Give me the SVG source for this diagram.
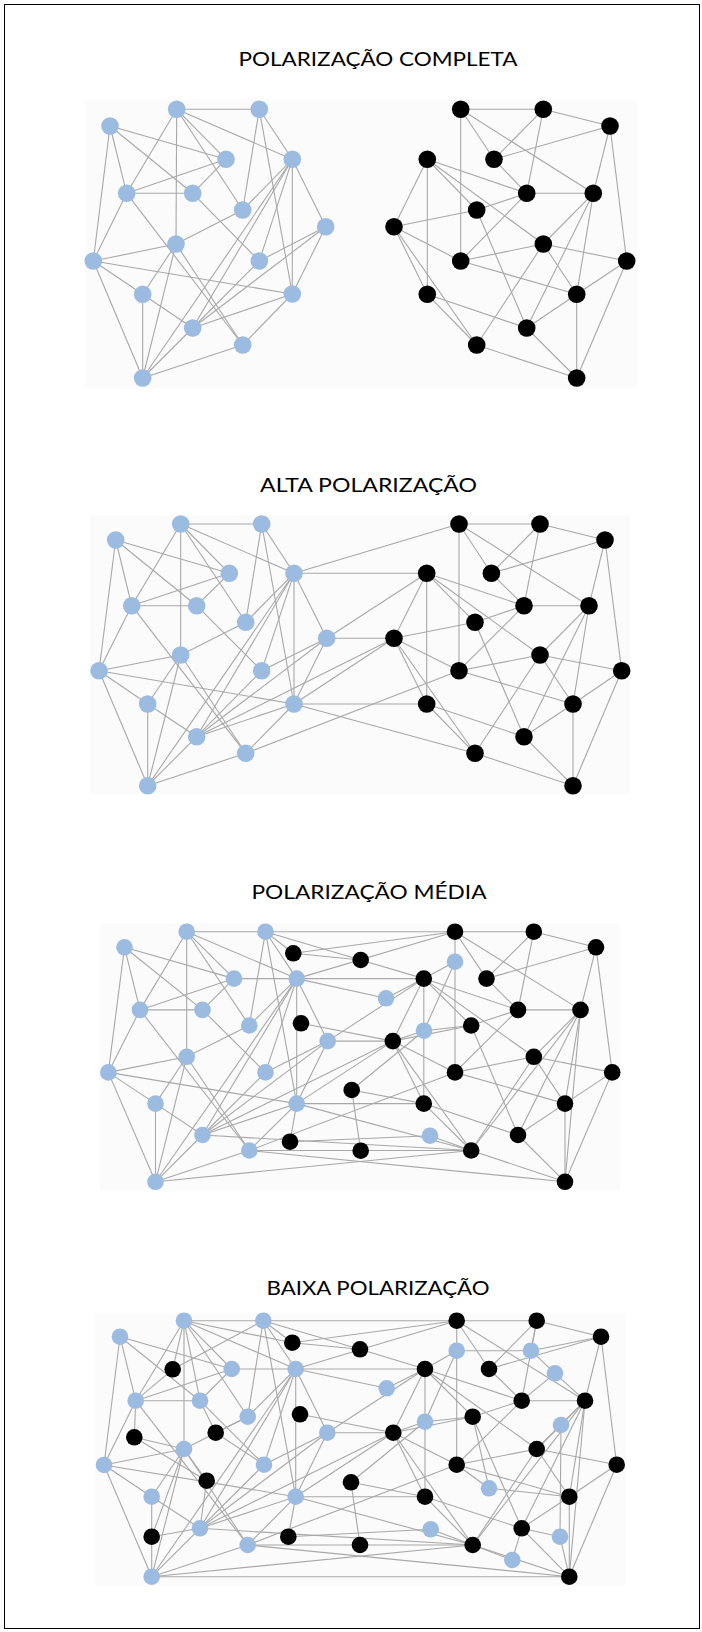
<svg xmlns="http://www.w3.org/2000/svg" width="702" height="1632" viewBox="0 0 702 1632">
<style>
.bg{fill:#fbfbfb}
.e line{stroke:#a8a8a8;stroke-width:1.1}
.bl{fill:#9bbbe1}
.bk{fill:#000}
.t{font-family:Lato,"Liberation Sans",Arial,sans-serif;font-size:19px;fill:#000;text-anchor:middle}
</style>
<rect x="0" y="0" width="702" height="1632" fill="#fff"/>
<rect x="4.5" y="4.5" width="695" height="1624" fill="none" stroke="#000" stroke-width="1"/>
<rect class="bg" x="85" y="100" width="552" height="288"/>
<rect class="bg" x="90" y="515" width="540" height="279"/>
<rect class="bg" x="100" y="923" width="520" height="268"/>
<rect class="bg" x="95" y="1313" width="531" height="272"/>
<text class="t" x="378" y="66" textLength="279" lengthAdjust="spacingAndGlyphs">POLARIZAÇÃO COMPLETA</text>
<text class="t" x="368.5" y="492" textLength="217" lengthAdjust="spacingAndGlyphs">ALTA POLARIZAÇÃO</text>
<text class="t" x="369" y="899" textLength="235" lengthAdjust="spacingAndGlyphs">POLARIZAÇÃO MÉDIA</text>
<text class="t" x="378" y="1295" textLength="223" lengthAdjust="spacingAndGlyphs">BAIXA POLARIZAÇÃO</text>

<g id="p1-edges" class="e">
<line x1="110" y1="126" x2="226" y2="159.3"/><line x1="110" y1="126" x2="192.7" y2="193.3"/><line x1="110" y1="126" x2="126.7" y2="193.3"/><line x1="110" y1="126" x2="93.3" y2="261"/>
<line x1="176.7" y1="109.3" x2="259.3" y2="109.3"/><line x1="176.7" y1="109.3" x2="126.7" y2="193.3"/><line x1="176.7" y1="109.3" x2="176" y2="244"/><line x1="176.7" y1="109.3" x2="226" y2="159.3"/><line x1="176.7" y1="109.3" x2="242.7" y2="210"/><line x1="176.7" y1="109.3" x2="292.3" y2="159.3"/>
<line x1="259.3" y1="109.3" x2="292.3" y2="159.3"/><line x1="259.3" y1="109.3" x2="242.7" y2="210"/><line x1="259.3" y1="109.3" x2="292.3" y2="294"/>
<line x1="226" y1="159.3" x2="126.7" y2="193.3"/><line x1="226" y1="159.3" x2="192.7" y2="193.3"/>
<line x1="126.7" y1="193.3" x2="192.7" y2="193.3"/><line x1="126.7" y1="193.3" x2="93.3" y2="261"/><line x1="126.7" y1="193.3" x2="242.7" y2="345"/>
<line x1="192.7" y1="193.3" x2="259.3" y2="261"/><line x1="242.7" y1="210" x2="176" y2="244"/><line x1="242.7" y1="210" x2="292.3" y2="159.3"/>
<line x1="292.3" y1="159.3" x2="325.7" y2="226.7"/><line x1="292.3" y1="159.3" x2="292.3" y2="294"/><line x1="292.3" y1="159.3" x2="259.3" y2="261"/><line x1="292.3" y1="159.3" x2="192.7" y2="328"/><line x1="292.3" y1="159.3" x2="142.7" y2="378"/>
<line x1="325.7" y1="226.7" x2="259.3" y2="261"/><line x1="325.7" y1="226.7" x2="192.7" y2="328"/><line x1="325.7" y1="226.7" x2="292.3" y2="294"/>
<line x1="176" y1="244" x2="93.3" y2="261"/><line x1="176" y1="244" x2="142.7" y2="294.3"/><line x1="176" y1="244" x2="142.7" y2="378"/><line x1="176" y1="244" x2="242.7" y2="345"/>
<line x1="93.3" y1="261" x2="292.3" y2="294"/><line x1="93.3" y1="261" x2="142.7" y2="294.3"/><line x1="93.3" y1="261" x2="142.7" y2="378"/>
<line x1="142.7" y1="294.3" x2="192.7" y2="328"/><line x1="142.7" y1="294.3" x2="142.7" y2="378"/>
<line x1="292.3" y1="294" x2="192.7" y2="328"/><line x1="292.3" y1="294" x2="242.7" y2="345"/>
<line x1="192.7" y1="328" x2="142.7" y2="378"/><line x1="242.7" y1="345" x2="142.7" y2="378"/><line x1="259.3" y1="261" x2="192.7" y2="328"/>
<line x1="460.7" y1="109.3" x2="543.3" y2="109.3"/><line x1="460.7" y1="109.3" x2="460.7" y2="261"/><line x1="460.7" y1="109.3" x2="494" y2="159.3"/><line x1="460.7" y1="109.3" x2="593.3" y2="193.3"/>
<line x1="543.3" y1="109.3" x2="494" y2="159.3"/><line x1="543.3" y1="109.3" x2="526.7" y2="193.3"/><line x1="543.3" y1="109.3" x2="610" y2="126"/>
<line x1="610" y1="126" x2="494" y2="159.3"/><line x1="610" y1="126" x2="593.3" y2="193.3"/><line x1="610" y1="126" x2="626.7" y2="261"/>
<line x1="494" y1="159.3" x2="526.7" y2="193.3"/>
<line x1="427.3" y1="159.3" x2="394" y2="226.7"/><line x1="427.3" y1="159.3" x2="427.3" y2="294.3"/><line x1="427.3" y1="159.3" x2="526.7" y2="193.3"/><line x1="427.3" y1="159.3" x2="476.7" y2="210"/><line x1="427.3" y1="159.3" x2="543.3" y2="244"/>
<line x1="526.7" y1="193.3" x2="593.3" y2="193.3"/><line x1="526.7" y1="193.3" x2="476.7" y2="210"/><line x1="526.7" y1="193.3" x2="460.7" y2="261"/>
<line x1="593.3" y1="193.3" x2="543.3" y2="244"/><line x1="593.3" y1="193.3" x2="576.7" y2="294.3"/><line x1="593.3" y1="193.3" x2="526.7" y2="328"/>
<line x1="476.7" y1="210" x2="394" y2="226.7"/><line x1="476.7" y1="210" x2="526.7" y2="328"/>
<line x1="394" y1="226.7" x2="460.7" y2="261"/><line x1="394" y1="226.7" x2="427.3" y2="294.3"/><line x1="394" y1="226.7" x2="476.7" y2="345"/>
<line x1="460.7" y1="261" x2="543.3" y2="244"/><line x1="460.7" y1="261" x2="576.7" y2="294.3"/>
<line x1="543.3" y1="244" x2="576.7" y2="294.3"/><line x1="543.3" y1="244" x2="626.7" y2="261"/><line x1="543.3" y1="244" x2="476.7" y2="345"/>
<line x1="427.3" y1="294.3" x2="476.7" y2="345"/><line x1="427.3" y1="294.3" x2="526.7" y2="328"/>
<line x1="576.7" y1="294.3" x2="626.7" y2="261"/><line x1="576.7" y1="294.3" x2="526.7" y2="328"/><line x1="576.7" y1="294.3" x2="576.7" y2="378"/>
<line x1="626.7" y1="261" x2="576.7" y2="378"/><line x1="526.7" y1="328" x2="576.7" y2="378"/><line x1="476.7" y1="345" x2="576.7" y2="378"/>
</g>

<g id="p2-edges" class="e">
<line x1="115.7" y1="540" x2="229.3" y2="573.3"/><line x1="115.7" y1="540" x2="196.7" y2="605.7"/><line x1="115.7" y1="540" x2="131.7" y2="605.7"/><line x1="115.7" y1="540" x2="99" y2="670.7"/>
<line x1="180.7" y1="524" x2="261.7" y2="524"/><line x1="180.7" y1="524" x2="131.7" y2="605.7"/><line x1="180.7" y1="524" x2="180.7" y2="655"/><line x1="180.7" y1="524" x2="229.3" y2="573.3"/><line x1="180.7" y1="524" x2="245.7" y2="622.3"/><line x1="180.7" y1="524" x2="294" y2="573.3"/>
<line x1="261.7" y1="524" x2="294" y2="573.3"/><line x1="261.7" y1="524" x2="245.7" y2="622.3"/><line x1="261.7" y1="524" x2="294" y2="704"/>
<line x1="229.3" y1="573.3" x2="131.7" y2="605.7"/><line x1="229.3" y1="573.3" x2="196.7" y2="605.7"/>
<line x1="131.7" y1="605.7" x2="196.7" y2="605.7"/><line x1="131.7" y1="605.7" x2="99" y2="670.7"/><line x1="131.7" y1="605.7" x2="245.7" y2="753.3"/>
<line x1="196.7" y1="605.7" x2="261.7" y2="670.7"/><line x1="245.7" y1="622.3" x2="180.7" y2="655"/><line x1="245.7" y1="622.3" x2="294" y2="573.3"/>
<line x1="294" y1="573.3" x2="326.7" y2="638.3"/><line x1="294" y1="573.3" x2="294" y2="704"/><line x1="294" y1="573.3" x2="261.7" y2="670.7"/><line x1="294" y1="573.3" x2="196.7" y2="736.7"/><line x1="294" y1="573.3" x2="147.7" y2="785.7"/>
<line x1="326.7" y1="638.3" x2="261.7" y2="670.7"/><line x1="326.7" y1="638.3" x2="196.7" y2="736.7"/><line x1="326.7" y1="638.3" x2="294" y2="704"/>
<line x1="180.7" y1="655" x2="99" y2="670.7"/><line x1="180.7" y1="655" x2="147.7" y2="704"/><line x1="180.7" y1="655" x2="147.7" y2="785.7"/><line x1="180.7" y1="655" x2="245.7" y2="753.3"/>
<line x1="99" y1="670.7" x2="294" y2="704"/><line x1="99" y1="670.7" x2="147.7" y2="704"/><line x1="99" y1="670.7" x2="147.7" y2="785.7"/>
<line x1="147.7" y1="704" x2="196.7" y2="736.7"/><line x1="147.7" y1="704" x2="147.7" y2="785.7"/>
<line x1="294" y1="704" x2="196.7" y2="736.7"/><line x1="294" y1="704" x2="245.7" y2="753.3"/>
<line x1="196.7" y1="736.7" x2="147.7" y2="785.7"/><line x1="245.7" y1="753.3" x2="147.7" y2="785.7"/><line x1="261.7" y1="670.7" x2="196.7" y2="736.7"/>
<line x1="459" y1="524" x2="540" y2="524"/><line x1="459" y1="524" x2="459" y2="670.7"/><line x1="459" y1="524" x2="491.4" y2="573.3"/><line x1="459" y1="524" x2="589" y2="605.7"/>
<line x1="540" y1="524" x2="491.4" y2="573.3"/><line x1="540" y1="524" x2="524" y2="605.7"/><line x1="540" y1="524" x2="605" y2="540"/>
<line x1="605" y1="540" x2="491.4" y2="573.3"/><line x1="605" y1="540" x2="589" y2="605.7"/><line x1="605" y1="540" x2="621.7" y2="670.7"/>
<line x1="491.4" y1="573.3" x2="524" y2="605.7"/>
<line x1="426.7" y1="573.3" x2="394" y2="638.3"/><line x1="426.7" y1="573.3" x2="426.7" y2="704"/><line x1="426.7" y1="573.3" x2="524" y2="605.7"/><line x1="426.7" y1="573.3" x2="475" y2="622.3"/><line x1="426.7" y1="573.3" x2="540" y2="655"/>
<line x1="524" y1="605.7" x2="589" y2="605.7"/><line x1="524" y1="605.7" x2="475" y2="622.3"/><line x1="524" y1="605.7" x2="459" y2="670.7"/>
<line x1="589" y1="605.7" x2="540" y2="655"/><line x1="589" y1="605.7" x2="573" y2="704"/><line x1="589" y1="605.7" x2="524" y2="736.7"/>
<line x1="475" y1="622.3" x2="394" y2="638.3"/><line x1="475" y1="622.3" x2="524" y2="736.7"/>
<line x1="394" y1="638.3" x2="459" y2="670.7"/><line x1="394" y1="638.3" x2="426.7" y2="704"/><line x1="394" y1="638.3" x2="475" y2="753.3"/>
<line x1="459" y1="670.7" x2="540" y2="655"/><line x1="459" y1="670.7" x2="573" y2="704"/>
<line x1="540" y1="655" x2="573" y2="704"/><line x1="540" y1="655" x2="621.7" y2="670.7"/><line x1="540" y1="655" x2="475" y2="753.3"/>
<line x1="426.7" y1="704" x2="475" y2="753.3"/><line x1="426.7" y1="704" x2="524" y2="736.7"/>
<line x1="573" y1="704" x2="621.7" y2="670.7"/><line x1="573" y1="704" x2="524" y2="736.7"/><line x1="573" y1="704" x2="573" y2="785.7"/>
<line x1="621.7" y1="670.7" x2="573" y2="785.7"/><line x1="524" y1="736.7" x2="573" y2="785.7"/><line x1="475" y1="753.3" x2="573" y2="785.7"/>
<line x1="294" y1="573.3" x2="459" y2="524"/><line x1="294" y1="573.3" x2="426.7" y2="573.3"/><line x1="326.7" y1="638.3" x2="426.7" y2="573.3"/><line x1="326.7" y1="638.3" x2="394" y2="638.3"/>
<line x1="294" y1="704" x2="394" y2="638.3"/><line x1="196.7" y1="736.7" x2="394" y2="638.3"/><line x1="294" y1="704" x2="426.7" y2="704"/><line x1="245.7" y1="753.3" x2="459" y2="670.7"/><line x1="294" y1="704" x2="475" y2="753.3"/>
</g>

<g id="p3-edges" class="e">
<line x1="124.5" y1="947.3" x2="234" y2="978.6"/><line x1="124.5" y1="947.3" x2="202.5" y2="1009.9"/><line x1="124.5" y1="947.3" x2="140" y2="1009.9"/><line x1="124.5" y1="947.3" x2="108.3" y2="1072.4"/>
<line x1="186.7" y1="931.7" x2="265.5" y2="931.7"/><line x1="186.7" y1="931.7" x2="140" y2="1009.9"/><line x1="186.7" y1="931.7" x2="186.7" y2="1056.8"/><line x1="186.7" y1="931.7" x2="234" y2="978.6"/><line x1="186.7" y1="931.7" x2="249.3" y2="1025.5"/><line x1="186.7" y1="931.7" x2="296.7" y2="978.6"/>
<line x1="265.5" y1="931.7" x2="296.7" y2="978.6"/><line x1="265.5" y1="931.7" x2="249.3" y2="1025.5"/><line x1="265.5" y1="931.7" x2="296.7" y2="1103.6"/>
<line x1="234" y1="978.6" x2="140" y2="1009.9"/><line x1="234" y1="978.6" x2="202.5" y2="1009.9"/>
<line x1="140" y1="1009.9" x2="202.5" y2="1009.9"/><line x1="140" y1="1009.9" x2="108.3" y2="1072.4"/><line x1="140" y1="1009.9" x2="249.3" y2="1150.5"/>
<line x1="202.5" y1="1009.9" x2="265.5" y2="1072.4"/><line x1="249.3" y1="1025.5" x2="186.7" y2="1056.8"/><line x1="249.3" y1="1025.5" x2="296.7" y2="978.6"/>
<line x1="296.7" y1="978.6" x2="327.7" y2="1041.1"/><line x1="296.7" y1="978.6" x2="296.7" y2="1103.6"/><line x1="296.7" y1="978.6" x2="265.5" y2="1072.4"/><line x1="296.7" y1="978.6" x2="202.5" y2="1135"/><line x1="296.7" y1="978.6" x2="155.5" y2="1181.8"/>
<line x1="327.7" y1="1041.1" x2="265.5" y2="1072.4"/><line x1="327.7" y1="1041.1" x2="202.5" y2="1135"/><line x1="327.7" y1="1041.1" x2="296.7" y2="1103.6"/>
<line x1="186.7" y1="1056.8" x2="108.3" y2="1072.4"/><line x1="186.7" y1="1056.8" x2="155.5" y2="1103.6"/><line x1="186.7" y1="1056.8" x2="155.5" y2="1181.8"/><line x1="186.7" y1="1056.8" x2="249.3" y2="1150.5"/>
<line x1="108.3" y1="1072.4" x2="296.7" y2="1103.6"/><line x1="108.3" y1="1072.4" x2="155.5" y2="1103.6"/><line x1="108.3" y1="1072.4" x2="155.5" y2="1181.8"/>
<line x1="155.5" y1="1103.6" x2="202.5" y2="1135"/><line x1="155.5" y1="1103.6" x2="155.5" y2="1181.8"/>
<line x1="296.7" y1="1103.6" x2="202.5" y2="1135"/><line x1="296.7" y1="1103.6" x2="249.3" y2="1150.5"/>
<line x1="202.5" y1="1135" x2="155.5" y2="1181.8"/><line x1="249.3" y1="1150.5" x2="155.5" y2="1181.8"/><line x1="265.5" y1="1072.4" x2="202.5" y2="1135"/>
<line x1="455" y1="931.7" x2="533.8" y2="931.7"/><line x1="455" y1="931.7" x2="455" y2="1072.4"/><line x1="455" y1="931.7" x2="486.5" y2="978.6"/><line x1="455" y1="931.7" x2="580.5" y2="1009.9"/>
<line x1="533.8" y1="931.7" x2="486.5" y2="978.6"/><line x1="533.8" y1="931.7" x2="518" y2="1009.9"/><line x1="533.8" y1="931.7" x2="596" y2="947.3"/>
<line x1="596" y1="947.3" x2="486.5" y2="978.6"/><line x1="596" y1="947.3" x2="580.5" y2="1009.9"/><line x1="596" y1="947.3" x2="612.2" y2="1072.4"/>
<line x1="486.5" y1="978.6" x2="518" y2="1009.9"/>
<line x1="423.8" y1="978.6" x2="392.8" y2="1041.1"/><line x1="423.8" y1="978.6" x2="423.8" y2="1103.6"/><line x1="423.8" y1="978.6" x2="518" y2="1009.9"/><line x1="423.8" y1="978.6" x2="471.2" y2="1025.5"/><line x1="423.8" y1="978.6" x2="533.8" y2="1056.8"/>
<line x1="518" y1="1009.9" x2="580.5" y2="1009.9"/><line x1="518" y1="1009.9" x2="471.2" y2="1025.5"/><line x1="518" y1="1009.9" x2="455" y2="1072.4"/>
<line x1="580.5" y1="1009.9" x2="533.8" y2="1056.8"/><line x1="580.5" y1="1009.9" x2="565" y2="1103.6"/><line x1="580.5" y1="1009.9" x2="518" y2="1135"/>
<line x1="471.2" y1="1025.5" x2="392.8" y2="1041.1"/><line x1="471.2" y1="1025.5" x2="518" y2="1135"/>
<line x1="392.8" y1="1041.1" x2="455" y2="1072.4"/><line x1="392.8" y1="1041.1" x2="423.8" y2="1103.6"/><line x1="392.8" y1="1041.1" x2="471.2" y2="1150.5"/>
<line x1="455" y1="1072.4" x2="533.8" y2="1056.8"/><line x1="455" y1="1072.4" x2="565" y2="1103.6"/>
<line x1="533.8" y1="1056.8" x2="565" y2="1103.6"/><line x1="533.8" y1="1056.8" x2="612.2" y2="1072.4"/><line x1="533.8" y1="1056.8" x2="471.2" y2="1150.5"/>
<line x1="423.8" y1="1103.6" x2="471.2" y2="1150.5"/><line x1="423.8" y1="1103.6" x2="518" y2="1135"/>
<line x1="565" y1="1103.6" x2="612.2" y2="1072.4"/><line x1="565" y1="1103.6" x2="518" y2="1135"/><line x1="565" y1="1103.6" x2="565" y2="1181.8"/>
<line x1="612.2" y1="1072.4" x2="565" y2="1181.8"/><line x1="518" y1="1135" x2="565" y2="1181.8"/><line x1="471.2" y1="1150.5" x2="565" y2="1181.8"/>
<line x1="265.5" y1="931.7" x2="455" y2="931.7"/><line x1="265.5" y1="931.7" x2="293.3" y2="953.3"/><line x1="265.5" y1="931.7" x2="360.7" y2="960"/><line x1="293.3" y1="953.3" x2="360.7" y2="960"/>
<line x1="293.3" y1="953.3" x2="455" y2="931.7"/><line x1="296.7" y1="978.6" x2="455" y2="931.7"/><line x1="360.7" y1="960" x2="423.8" y2="978.6"/><line x1="234" y1="978.6" x2="423.8" y2="978.6"/>
<line x1="423.8" y1="978.6" x2="455" y2="961.7"/><line x1="455" y1="961.7" x2="424" y2="1030.7"/><line x1="423.8" y1="978.6" x2="386" y2="998.3"/><line x1="296.7" y1="978.6" x2="386" y2="998.3"/>
<line x1="327.7" y1="1041.1" x2="423.8" y2="978.6"/><line x1="327.7" y1="1041.1" x2="392.8" y2="1041.1"/><line x1="424" y1="1030.7" x2="392.8" y2="1041.1"/><line x1="424" y1="1030.7" x2="471.2" y2="1025.5"/>
<line x1="424" y1="1030.7" x2="351.7" y2="1090"/><line x1="351.7" y1="1090" x2="360.7" y2="1150.7"/><line x1="351.7" y1="1090" x2="423.8" y2="1103.6"/><line x1="249.3" y1="1150.5" x2="471.2" y2="1150.5"/>
<line x1="296.7" y1="1103.6" x2="290" y2="1141.7"/><line x1="430" y1="1135.7" x2="471.2" y2="1150.5"/><line x1="296.7" y1="1103.6" x2="423.8" y2="1103.6"/><line x1="296.7" y1="1103.6" x2="471.2" y2="1150.5"/>
<line x1="249.3" y1="1150.5" x2="455" y2="1072.4"/><line x1="296.7" y1="1103.6" x2="392.8" y2="1041.1"/><line x1="202.5" y1="1135" x2="392.8" y2="1041.1"/><line x1="202.5" y1="1135" x2="471.2" y2="1150.5"/>
<line x1="249.3" y1="1150.5" x2="565" y2="1181.8"/><line x1="155.5" y1="1181.8" x2="471.2" y2="1150.5"/><line x1="290" y1="1141.7" x2="430" y2="1135.7"/><line x1="301" y1="1023.3" x2="392.8" y2="1041.1"/>
<line x1="580.5" y1="1009.9" x2="471.2" y2="1150.5"/><line x1="580.5" y1="1009.9" x2="565" y2="1181.8"/>
</g>

<g id="p4-edges" class="e">
<line x1="120" y1="1336.7" x2="231.7" y2="1369"/><line x1="120" y1="1336.7" x2="200" y2="1400.7"/><line x1="120" y1="1336.7" x2="135.7" y2="1400.7"/><line x1="120" y1="1336.7" x2="104" y2="1465"/>
<line x1="184" y1="1320.7" x2="263.3" y2="1320.7"/><line x1="184" y1="1320.7" x2="135.7" y2="1400.7"/><line x1="184" y1="1320.7" x2="184" y2="1449"/><line x1="184" y1="1320.7" x2="231.7" y2="1369"/><line x1="184" y1="1320.7" x2="247.7" y2="1416.7"/><line x1="184" y1="1320.7" x2="295.7" y2="1369"/>
<line x1="263.3" y1="1320.7" x2="295.7" y2="1369"/><line x1="263.3" y1="1320.7" x2="247.7" y2="1416.7"/><line x1="263.3" y1="1320.7" x2="295.7" y2="1496.7"/>
<line x1="231.7" y1="1369" x2="135.7" y2="1400.7"/><line x1="231.7" y1="1369" x2="200" y2="1400.7"/>
<line x1="135.7" y1="1400.7" x2="200" y2="1400.7"/><line x1="135.7" y1="1400.7" x2="104" y2="1465"/><line x1="135.7" y1="1400.7" x2="247.7" y2="1545"/>
<line x1="200" y1="1400.7" x2="264" y2="1464.7"/><line x1="247.7" y1="1416.7" x2="184" y2="1449"/><line x1="247.7" y1="1416.7" x2="295.7" y2="1369"/>
<line x1="295.7" y1="1369" x2="327.3" y2="1432.7"/><line x1="295.7" y1="1369" x2="295.7" y2="1496.7"/><line x1="295.7" y1="1369" x2="264" y2="1464.7"/><line x1="295.7" y1="1369" x2="200" y2="1528.3"/><line x1="295.7" y1="1369" x2="151.7" y2="1576.7"/>
<line x1="327.3" y1="1432.7" x2="264" y2="1464.7"/><line x1="327.3" y1="1432.7" x2="200" y2="1528.3"/><line x1="327.3" y1="1432.7" x2="295.7" y2="1496.7"/>
<line x1="184" y1="1449" x2="104" y2="1465"/><line x1="184" y1="1449" x2="151.7" y2="1496.7"/><line x1="184" y1="1449" x2="151.7" y2="1576.7"/><line x1="184" y1="1449" x2="247.7" y2="1545"/>
<line x1="104" y1="1465" x2="295.7" y2="1496.7"/><line x1="104" y1="1465" x2="151.7" y2="1496.7"/><line x1="104" y1="1465" x2="151.7" y2="1576.7"/>
<line x1="151.7" y1="1496.7" x2="200" y2="1528.3"/><line x1="151.7" y1="1496.7" x2="151.7" y2="1576.7"/>
<line x1="295.7" y1="1496.7" x2="200" y2="1528.3"/><line x1="295.7" y1="1496.7" x2="247.7" y2="1545"/>
<line x1="200" y1="1528.3" x2="151.7" y2="1576.7"/><line x1="247.7" y1="1545" x2="151.7" y2="1576.7"/><line x1="264" y1="1464.7" x2="200" y2="1528.3"/>
<line x1="456.7" y1="1320.7" x2="536.7" y2="1320.7"/><line x1="456.7" y1="1320.7" x2="456.7" y2="1464.7"/><line x1="456.7" y1="1320.7" x2="489" y2="1369"/><line x1="456.7" y1="1320.7" x2="585" y2="1400.7"/>
<line x1="536.7" y1="1320.7" x2="489" y2="1369"/><line x1="536.7" y1="1320.7" x2="521.7" y2="1400.7"/><line x1="536.7" y1="1320.7" x2="601" y2="1336.7"/>
<line x1="601" y1="1336.7" x2="489" y2="1369"/><line x1="601" y1="1336.7" x2="585" y2="1400.7"/><line x1="601" y1="1336.7" x2="616.7" y2="1464.7"/>
<line x1="489" y1="1369" x2="521.7" y2="1400.7"/>
<line x1="425" y1="1369" x2="393.3" y2="1432.7"/><line x1="425" y1="1369" x2="425" y2="1496.7"/><line x1="425" y1="1369" x2="521.7" y2="1400.7"/><line x1="425" y1="1369" x2="472.7" y2="1416.7"/><line x1="425" y1="1369" x2="536.7" y2="1449"/>
<line x1="521.7" y1="1400.7" x2="585" y2="1400.7"/><line x1="521.7" y1="1400.7" x2="472.7" y2="1416.7"/><line x1="521.7" y1="1400.7" x2="456.7" y2="1464.7"/>
<line x1="585" y1="1400.7" x2="536.7" y2="1449"/><line x1="585" y1="1400.7" x2="569.3" y2="1496.7"/><line x1="585" y1="1400.7" x2="521.7" y2="1528.3"/>
<line x1="472.7" y1="1416.7" x2="393.3" y2="1432.7"/><line x1="472.7" y1="1416.7" x2="521.7" y2="1528.3"/>
<line x1="393.3" y1="1432.7" x2="456.7" y2="1464.7"/><line x1="393.3" y1="1432.7" x2="425" y2="1496.7"/><line x1="393.3" y1="1432.7" x2="472.7" y2="1545"/>
<line x1="456.7" y1="1464.7" x2="536.7" y2="1449"/><line x1="456.7" y1="1464.7" x2="569.3" y2="1496.7"/>
<line x1="536.7" y1="1449" x2="569.3" y2="1496.7"/><line x1="536.7" y1="1449" x2="616.7" y2="1464.7"/><line x1="536.7" y1="1449" x2="472.7" y2="1545"/>
<line x1="425" y1="1496.7" x2="472.7" y2="1545"/><line x1="425" y1="1496.7" x2="521.7" y2="1528.3"/>
<line x1="569.3" y1="1496.7" x2="616.7" y2="1464.7"/><line x1="569.3" y1="1496.7" x2="521.7" y2="1528.3"/><line x1="569.3" y1="1496.7" x2="569.3" y2="1576.7"/>
<line x1="616.7" y1="1464.7" x2="569.3" y2="1576.7"/><line x1="521.7" y1="1528.3" x2="569.3" y2="1576.7"/><line x1="472.7" y1="1545" x2="569.3" y2="1576.7"/>
<line x1="263.3" y1="1320.7" x2="456.7" y2="1320.7"/><line x1="263.3" y1="1320.7" x2="292.3" y2="1342.7"/><line x1="263.3" y1="1320.7" x2="360" y2="1349.3"/><line x1="292.3" y1="1342.7" x2="360" y2="1349.3"/>
<line x1="292.3" y1="1342.7" x2="456.7" y2="1320.7"/><line x1="295.7" y1="1369" x2="456.7" y2="1320.7"/><line x1="360" y1="1349.3" x2="425" y2="1369"/><line x1="231.7" y1="1369" x2="425" y2="1369"/>
<line x1="425" y1="1369" x2="456.7" y2="1350.7"/><line x1="456.7" y1="1350.7" x2="425" y2="1421.7"/><line x1="425" y1="1369" x2="386.7" y2="1388.3"/><line x1="295.7" y1="1369" x2="386.7" y2="1388.3"/>
<line x1="327.3" y1="1432.7" x2="425" y2="1369"/><line x1="327.3" y1="1432.7" x2="393.3" y2="1432.7"/><line x1="425" y1="1421.7" x2="393.3" y2="1432.7"/><line x1="425" y1="1421.7" x2="472.7" y2="1416.7"/>
<line x1="425" y1="1421.7" x2="351" y2="1482.3"/><line x1="351" y1="1482.3" x2="360" y2="1545"/><line x1="351" y1="1482.3" x2="425" y2="1496.7"/><line x1="247.7" y1="1545" x2="472.7" y2="1545"/>
<line x1="295.7" y1="1496.7" x2="288.3" y2="1536.7"/><line x1="430.7" y1="1529.3" x2="472.7" y2="1545"/><line x1="295.7" y1="1496.7" x2="425" y2="1496.7"/><line x1="295.7" y1="1496.7" x2="472.7" y2="1545"/>
<line x1="247.7" y1="1545" x2="456.7" y2="1464.7"/><line x1="295.7" y1="1496.7" x2="393.3" y2="1432.7"/><line x1="200" y1="1528.3" x2="393.3" y2="1432.7"/><line x1="200" y1="1528.3" x2="472.7" y2="1545"/>
<line x1="247.7" y1="1545" x2="569.3" y2="1576.7"/><line x1="151.7" y1="1576.7" x2="472.7" y2="1545"/><line x1="288.3" y1="1536.7" x2="430.7" y2="1529.3"/><line x1="300" y1="1414.3" x2="393.3" y2="1432.7"/>
<line x1="585" y1="1400.7" x2="472.7" y2="1545"/><line x1="585" y1="1400.7" x2="569.3" y2="1576.7"/>
<line x1="151.7" y1="1576.7" x2="569.3" y2="1576.7"/><line x1="184" y1="1320.7" x2="200" y2="1400.7"/><line x1="184" y1="1320.7" x2="172.7" y2="1369.3"/><line x1="263.3" y1="1320.7" x2="172.7" y2="1369.3"/>
<line x1="172.7" y1="1369.3" x2="135.7" y2="1400.7"/><line x1="134.3" y1="1437.3" x2="135.7" y2="1400.7"/><line x1="134.3" y1="1437.3" x2="206.7" y2="1480.7"/><line x1="134.3" y1="1437.3" x2="184" y2="1449"/>
<line x1="215.7" y1="1432.7" x2="200" y2="1400.7"/><line x1="215.7" y1="1432.7" x2="247.7" y2="1416.7"/><line x1="215.7" y1="1432.7" x2="264" y2="1464.7"/><line x1="206.7" y1="1480.7" x2="184" y2="1449"/>
<line x1="206.7" y1="1480.7" x2="200" y2="1528.3"/><line x1="151.7" y1="1536.7" x2="200" y2="1528.3"/><line x1="151.7" y1="1536.7" x2="184" y2="1449"/><line x1="184" y1="1320.7" x2="292.3" y2="1342.7"/>
<line x1="531" y1="1350.7" x2="536.7" y2="1320.7"/><line x1="531" y1="1350.7" x2="555" y2="1373.3"/><line x1="456.7" y1="1350.7" x2="531" y2="1350.7"/><line x1="531" y1="1350.7" x2="601" y2="1336.7"/>
<line x1="555" y1="1373.3" x2="585" y2="1400.7"/><line x1="555" y1="1373.3" x2="521.7" y2="1400.7"/><line x1="561" y1="1425" x2="585" y2="1400.7"/><line x1="561" y1="1425" x2="560" y2="1536.7"/>
<line x1="561" y1="1425" x2="536.7" y2="1449"/><line x1="489" y1="1488.3" x2="472.7" y2="1416.7"/><line x1="489" y1="1488.3" x2="569.3" y2="1496.7"/><line x1="489" y1="1488.3" x2="456.7" y2="1464.7"/>
<line x1="560" y1="1536.7" x2="521.7" y2="1528.3"/><line x1="560" y1="1536.7" x2="569.3" y2="1576.7"/><line x1="512.3" y1="1560" x2="472.7" y2="1545"/><line x1="512.3" y1="1560" x2="521.7" y2="1528.3"/>
</g>

<g id="p1-A"><circle class="bl" cx="110" cy="126" r="8.8"/></g>
<g id="p1-B"><circle class="bl" cx="176.7" cy="109.3" r="8.8"/></g>
<g id="p1-C"><circle class="bl" cx="259.3" cy="109.3" r="8.8"/></g>
<g id="p1-D"><circle class="bl" cx="226" cy="159.3" r="8.8"/></g>
<g id="p1-E"><circle class="bl" cx="292.3" cy="159.3" r="8.8"/></g>
<g id="p1-F"><circle class="bl" cx="126.7" cy="193.3" r="8.8"/></g>
<g id="p1-G"><circle class="bl" cx="192.7" cy="193.3" r="8.8"/></g>
<g id="p1-H"><circle class="bl" cx="242.7" cy="210" r="8.8"/></g>
<g id="p1-I"><circle class="bl" cx="325.7" cy="226.7" r="8.8"/></g>
<g id="p1-J"><circle class="bl" cx="176" cy="244" r="8.8"/></g>
<g id="p1-K"><circle class="bl" cx="93.3" cy="261" r="8.8"/></g>
<g id="p1-L"><circle class="bl" cx="259.3" cy="261" r="8.8"/></g>
<g id="p1-M"><circle class="bl" cx="142.7" cy="294.3" r="8.8"/></g>
<g id="p1-N"><circle class="bl" cx="292.3" cy="294" r="8.8"/></g>
<g id="p1-O"><circle class="bl" cx="192.7" cy="328" r="8.8"/></g>
<g id="p1-P"><circle class="bl" cx="242.7" cy="345" r="8.8"/></g>
<g id="p1-Q"><circle class="bl" cx="142.7" cy="378" r="8.8"/></g>
<g id="p1-a"><circle class="bk" cx="460.7" cy="109.3" r="8.8"/></g>
<g id="p1-b"><circle class="bk" cx="543.3" cy="109.3" r="8.8"/></g>
<g id="p1-c"><circle class="bk" cx="610" cy="126" r="8.8"/></g>
<g id="p1-d"><circle class="bk" cx="494" cy="159.3" r="8.8"/></g>
<g id="p1-e"><circle class="bk" cx="427.3" cy="159.3" r="8.8"/></g>
<g id="p1-f"><circle class="bk" cx="526.7" cy="193.3" r="8.8"/></g>
<g id="p1-g"><circle class="bk" cx="593.3" cy="193.3" r="8.8"/></g>
<g id="p1-h"><circle class="bk" cx="476.7" cy="210" r="8.8"/></g>
<g id="p1-i"><circle class="bk" cx="394" cy="226.7" r="8.8"/></g>
<g id="p1-j"><circle class="bk" cx="543.3" cy="244" r="8.8"/></g>
<g id="p1-k"><circle class="bk" cx="460.7" cy="261" r="8.8"/></g>
<g id="p1-l"><circle class="bk" cx="626.7" cy="261" r="8.8"/></g>
<g id="p1-m"><circle class="bk" cx="427.3" cy="294.3" r="8.8"/></g>
<g id="p1-n"><circle class="bk" cx="576.7" cy="294.3" r="8.8"/></g>
<g id="p1-o"><circle class="bk" cx="526.7" cy="328" r="8.8"/></g>
<g id="p1-p"><circle class="bk" cx="476.7" cy="345" r="8.8"/></g>
<g id="p1-q"><circle class="bk" cx="576.7" cy="378" r="8.8"/></g>

<g id="p2-A"><circle class="bl" cx="115.7" cy="540" r="8.8"/></g>
<g id="p2-B"><circle class="bl" cx="180.7" cy="524" r="8.8"/></g>
<g id="p2-C"><circle class="bl" cx="261.7" cy="524" r="8.8"/></g>
<g id="p2-D"><circle class="bl" cx="229.3" cy="573.3" r="8.8"/></g>
<g id="p2-E"><circle class="bl" cx="294" cy="573.3" r="8.8"/></g>
<g id="p2-F"><circle class="bl" cx="131.7" cy="605.7" r="8.8"/></g>
<g id="p2-G"><circle class="bl" cx="196.7" cy="605.7" r="8.8"/></g>
<g id="p2-H"><circle class="bl" cx="245.7" cy="622.3" r="8.8"/></g>
<g id="p2-I"><circle class="bl" cx="326.7" cy="638.3" r="8.8"/></g>
<g id="p2-J"><circle class="bl" cx="180.7" cy="655" r="8.8"/></g>
<g id="p2-K"><circle class="bl" cx="99" cy="670.7" r="8.8"/></g>
<g id="p2-L"><circle class="bl" cx="261.7" cy="670.7" r="8.8"/></g>
<g id="p2-M"><circle class="bl" cx="147.7" cy="704" r="8.8"/></g>
<g id="p2-N"><circle class="bl" cx="294" cy="704" r="8.8"/></g>
<g id="p2-O"><circle class="bl" cx="196.7" cy="736.7" r="8.8"/></g>
<g id="p2-P"><circle class="bl" cx="245.7" cy="753.3" r="8.8"/></g>
<g id="p2-Q"><circle class="bl" cx="147.7" cy="785.7" r="8.8"/></g>
<g id="p2-a"><circle class="bk" cx="459" cy="524" r="8.8"/></g>
<g id="p2-b"><circle class="bk" cx="540" cy="524" r="8.8"/></g>
<g id="p2-c"><circle class="bk" cx="605" cy="540" r="8.8"/></g>
<g id="p2-d"><circle class="bk" cx="491.4" cy="573.3" r="8.8"/></g>
<g id="p2-e"><circle class="bk" cx="426.7" cy="573.3" r="8.8"/></g>
<g id="p2-f"><circle class="bk" cx="524" cy="605.7" r="8.8"/></g>
<g id="p2-g"><circle class="bk" cx="589" cy="605.7" r="8.8"/></g>
<g id="p2-h"><circle class="bk" cx="475" cy="622.3" r="8.8"/></g>
<g id="p2-i"><circle class="bk" cx="394" cy="638.3" r="8.8"/></g>
<g id="p2-j"><circle class="bk" cx="540" cy="655" r="8.8"/></g>
<g id="p2-k"><circle class="bk" cx="459" cy="670.7" r="8.8"/></g>
<g id="p2-l"><circle class="bk" cx="621.7" cy="670.7" r="8.8"/></g>
<g id="p2-m"><circle class="bk" cx="426.7" cy="704" r="8.8"/></g>
<g id="p2-n"><circle class="bk" cx="573" cy="704" r="8.8"/></g>
<g id="p2-o"><circle class="bk" cx="524" cy="736.7" r="8.8"/></g>
<g id="p2-p"><circle class="bk" cx="475" cy="753.3" r="8.8"/></g>
<g id="p2-q"><circle class="bk" cx="573" cy="785.7" r="8.8"/></g>

<g id="p3-A"><circle class="bl" cx="124.5" cy="947.3" r="8.3"/></g>
<g id="p3-B"><circle class="bl" cx="186.7" cy="931.7" r="8.3"/></g>
<g id="p3-C"><circle class="bl" cx="265.5" cy="931.7" r="8.3"/></g>
<g id="p3-D"><circle class="bl" cx="234" cy="978.6" r="8.3"/></g>
<g id="p3-E"><circle class="bl" cx="296.7" cy="978.6" r="8.3"/></g>
<g id="p3-F"><circle class="bl" cx="140" cy="1009.9" r="8.3"/></g>
<g id="p3-G"><circle class="bl" cx="202.5" cy="1009.9" r="8.3"/></g>
<g id="p3-H"><circle class="bl" cx="249.3" cy="1025.5" r="8.3"/></g>
<g id="p3-I"><circle class="bl" cx="327.7" cy="1041.1" r="8.3"/></g>
<g id="p3-J"><circle class="bl" cx="186.7" cy="1056.8" r="8.3"/></g>
<g id="p3-K"><circle class="bl" cx="108.3" cy="1072.4" r="8.3"/></g>
<g id="p3-L"><circle class="bl" cx="265.5" cy="1072.4" r="8.3"/></g>
<g id="p3-M"><circle class="bl" cx="155.5" cy="1103.6" r="8.3"/></g>
<g id="p3-N"><circle class="bl" cx="296.7" cy="1103.6" r="8.3"/></g>
<g id="p3-O"><circle class="bl" cx="202.5" cy="1135" r="8.3"/></g>
<g id="p3-P"><circle class="bl" cx="249.3" cy="1150.5" r="8.3"/></g>
<g id="p3-Q"><circle class="bl" cx="155.5" cy="1181.8" r="8.3"/></g>
<g id="p3-Y1"><circle class="bl" cx="455" cy="961.7" r="8.3"/></g>
<g id="p3-Y2"><circle class="bl" cx="386" cy="998.3" r="8.3"/></g>
<g id="p3-Y3"><circle class="bl" cx="424" cy="1030.7" r="8.3"/></g>
<g id="p3-Y4"><circle class="bl" cx="430" cy="1135.7" r="8.3"/></g>
<g id="p3-a"><circle class="bk" cx="455" cy="931.7" r="8.3"/></g>
<g id="p3-b"><circle class="bk" cx="533.8" cy="931.7" r="8.3"/></g>
<g id="p3-c"><circle class="bk" cx="596" cy="947.3" r="8.3"/></g>
<g id="p3-d"><circle class="bk" cx="486.5" cy="978.6" r="8.3"/></g>
<g id="p3-e"><circle class="bk" cx="423.8" cy="978.6" r="8.3"/></g>
<g id="p3-f"><circle class="bk" cx="518" cy="1009.9" r="8.3"/></g>
<g id="p3-g"><circle class="bk" cx="580.5" cy="1009.9" r="8.3"/></g>
<g id="p3-h"><circle class="bk" cx="471.2" cy="1025.5" r="8.3"/></g>
<g id="p3-i"><circle class="bk" cx="392.8" cy="1041.1" r="8.3"/></g>
<g id="p3-j"><circle class="bk" cx="533.8" cy="1056.8" r="8.3"/></g>
<g id="p3-k"><circle class="bk" cx="455" cy="1072.4" r="8.3"/></g>
<g id="p3-l"><circle class="bk" cx="612.2" cy="1072.4" r="8.3"/></g>
<g id="p3-m"><circle class="bk" cx="423.8" cy="1103.6" r="8.3"/></g>
<g id="p3-n"><circle class="bk" cx="565" cy="1103.6" r="8.3"/></g>
<g id="p3-o"><circle class="bk" cx="518" cy="1135" r="8.3"/></g>
<g id="p3-p"><circle class="bk" cx="471.2" cy="1150.5" r="8.3"/></g>
<g id="p3-q"><circle class="bk" cx="565" cy="1181.8" r="8.3"/></g>
<g id="p3-X1"><circle class="bk" cx="293.3" cy="953.3" r="8.3"/></g>
<g id="p3-X2"><circle class="bk" cx="360.7" cy="960" r="8.3"/></g>
<g id="p3-X3"><circle class="bk" cx="301" cy="1023.3" r="8.3"/></g>
<g id="p3-X4"><circle class="bk" cx="351.7" cy="1090" r="8.3"/></g>
<g id="p3-X5"><circle class="bk" cx="290" cy="1141.7" r="8.3"/></g>
<g id="p3-X6"><circle class="bk" cx="360.7" cy="1150.7" r="8.3"/></g>

<g id="p4-A"><circle class="bl" cx="120" cy="1336.7" r="8.3"/></g>
<g id="p4-B"><circle class="bl" cx="184" cy="1320.7" r="8.3"/></g>
<g id="p4-C"><circle class="bl" cx="263.3" cy="1320.7" r="8.3"/></g>
<g id="p4-D"><circle class="bl" cx="231.7" cy="1369" r="8.3"/></g>
<g id="p4-E"><circle class="bl" cx="295.7" cy="1369" r="8.3"/></g>
<g id="p4-F"><circle class="bl" cx="135.7" cy="1400.7" r="8.3"/></g>
<g id="p4-G"><circle class="bl" cx="200" cy="1400.7" r="8.3"/></g>
<g id="p4-H"><circle class="bl" cx="247.7" cy="1416.7" r="8.3"/></g>
<g id="p4-I"><circle class="bl" cx="327.3" cy="1432.7" r="8.3"/></g>
<g id="p4-J"><circle class="bl" cx="184" cy="1449" r="8.3"/></g>
<g id="p4-K"><circle class="bl" cx="104" cy="1465" r="8.3"/></g>
<g id="p4-L"><circle class="bl" cx="264" cy="1464.7" r="8.3"/></g>
<g id="p4-M"><circle class="bl" cx="151.7" cy="1496.7" r="8.3"/></g>
<g id="p4-N"><circle class="bl" cx="295.7" cy="1496.7" r="8.3"/></g>
<g id="p4-O"><circle class="bl" cx="200" cy="1528.3" r="8.3"/></g>
<g id="p4-P"><circle class="bl" cx="247.7" cy="1545" r="8.3"/></g>
<g id="p4-Q"><circle class="bl" cx="151.7" cy="1576.7" r="8.3"/></g>
<g id="p4-Y1"><circle class="bl" cx="456.7" cy="1350.7" r="8.3"/></g>
<g id="p4-Y2"><circle class="bl" cx="386.7" cy="1388.3" r="8.3"/></g>
<g id="p4-Y3"><circle class="bl" cx="425" cy="1421.7" r="8.3"/></g>
<g id="p4-Y4"><circle class="bl" cx="430.7" cy="1529.3" r="8.3"/></g>
<g id="p4-W1"><circle class="bl" cx="531" cy="1350.7" r="8.3"/></g>
<g id="p4-W2"><circle class="bl" cx="555" cy="1373.3" r="8.3"/></g>
<g id="p4-W3"><circle class="bl" cx="561" cy="1425" r="8.3"/></g>
<g id="p4-W4"><circle class="bl" cx="489" cy="1488.3" r="8.3"/></g>
<g id="p4-W5"><circle class="bl" cx="560" cy="1536.7" r="8.3"/></g>
<g id="p4-W6"><circle class="bl" cx="512.3" cy="1560" r="8.3"/></g>
<g id="p4-a"><circle class="bk" cx="456.7" cy="1320.7" r="8.3"/></g>
<g id="p4-b"><circle class="bk" cx="536.7" cy="1320.7" r="8.3"/></g>
<g id="p4-c"><circle class="bk" cx="601" cy="1336.7" r="8.3"/></g>
<g id="p4-d"><circle class="bk" cx="489" cy="1369" r="8.3"/></g>
<g id="p4-e"><circle class="bk" cx="425" cy="1369" r="8.3"/></g>
<g id="p4-f"><circle class="bk" cx="521.7" cy="1400.7" r="8.3"/></g>
<g id="p4-g"><circle class="bk" cx="585" cy="1400.7" r="8.3"/></g>
<g id="p4-h"><circle class="bk" cx="472.7" cy="1416.7" r="8.3"/></g>
<g id="p4-i"><circle class="bk" cx="393.3" cy="1432.7" r="8.3"/></g>
<g id="p4-j"><circle class="bk" cx="536.7" cy="1449" r="8.3"/></g>
<g id="p4-k"><circle class="bk" cx="456.7" cy="1464.7" r="8.3"/></g>
<g id="p4-l"><circle class="bk" cx="616.7" cy="1464.7" r="8.3"/></g>
<g id="p4-m"><circle class="bk" cx="425" cy="1496.7" r="8.3"/></g>
<g id="p4-n"><circle class="bk" cx="569.3" cy="1496.7" r="8.3"/></g>
<g id="p4-o"><circle class="bk" cx="521.7" cy="1528.3" r="8.3"/></g>
<g id="p4-p"><circle class="bk" cx="472.7" cy="1545" r="8.3"/></g>
<g id="p4-q"><circle class="bk" cx="569.3" cy="1576.7" r="8.3"/></g>
<g id="p4-Z1"><circle class="bk" cx="172.7" cy="1369.3" r="8.3"/></g>
<g id="p4-Z2"><circle class="bk" cx="134.3" cy="1437.3" r="8.3"/></g>
<g id="p4-Z3"><circle class="bk" cx="215.7" cy="1432.7" r="8.3"/></g>
<g id="p4-Z4"><circle class="bk" cx="206.7" cy="1480.7" r="8.3"/></g>
<g id="p4-Z5"><circle class="bk" cx="151.7" cy="1536.7" r="8.3"/></g>
<g id="p4-X1"><circle class="bk" cx="292.3" cy="1342.7" r="8.3"/></g>
<g id="p4-X2"><circle class="bk" cx="360" cy="1349.3" r="8.3"/></g>
<g id="p4-X3"><circle class="bk" cx="300" cy="1414.3" r="8.3"/></g>
<g id="p4-X4"><circle class="bk" cx="351" cy="1482.3" r="8.3"/></g>
<g id="p4-X5"><circle class="bk" cx="288.3" cy="1536.7" r="8.3"/></g>
<g id="p4-X6"><circle class="bk" cx="360" cy="1545" r="8.3"/></g>
</svg>
